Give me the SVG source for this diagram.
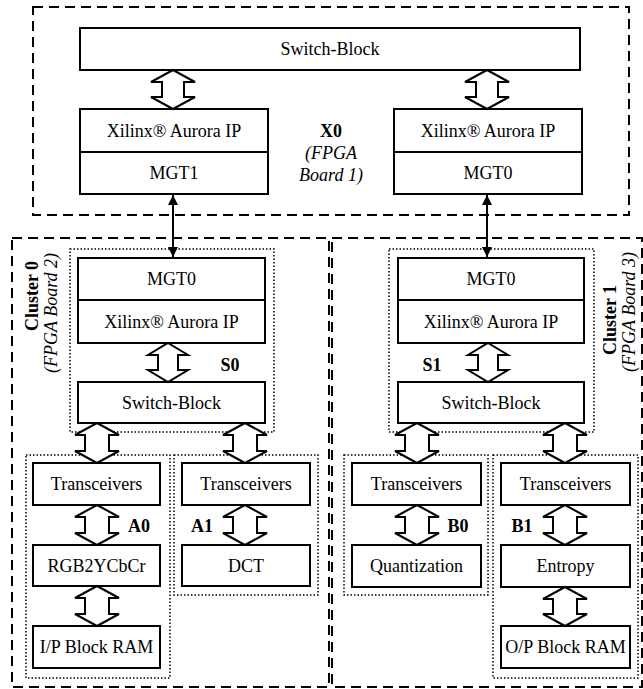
<svg xmlns="http://www.w3.org/2000/svg" width="643" height="689" viewBox="0 0 643 689">
<style>
.box{fill:#fff;stroke:#000;stroke-width:2}
.dash{fill:none;stroke:#000;stroke-width:2;stroke-dasharray:10 6}
.dot{fill:none;stroke:#000;stroke-width:1.5;stroke-dasharray:1.5 2}
.t{font-family:"Liberation Serif","Times New Roman",serif;font-size:18px;text-anchor:middle;fill:#000}
.b{font-weight:bold}
.i{font-style:italic}
.da{fill:#fff;stroke:#000;stroke-width:2;stroke-linejoin:miter}
.ln{stroke:#000;stroke-width:2;fill:none}
</style>
<defs>
<marker id="ah" viewBox="0 0 10 10" refX="10" refY="5" markerWidth="5" markerHeight="5" orient="auto-start-reverse">
<path d="M0,0 L10,5 L0,10 z" fill="#000"/>
</marker>
</defs>
<rect width="643" height="689" fill="#fff"/>

<g id="frames">
<rect class="dash" x="33" y="7" width="596" height="208"/>
<rect class="dash" x="12" y="238" width="317" height="449"/>
<rect class="dash" x="332" y="238" width="310" height="449"/>
<rect class="dot" x="70" y="249" width="204" height="183"/>
<rect class="dot" x="389" y="249" width="205" height="183"/>
<rect class="dot" x="26" y="455" width="144" height="223"/>
<rect class="dot" x="174" y="455" width="144" height="140"/>
<rect class="dot" x="344" y="455" width="144" height="140"/>
<rect class="dot" x="493" y="455" width="145" height="223"/>
</g>

<g id="labels">
<text class="t b" x="331" y="137">X0</text>
<text class="t i" x="331" y="159">(FPGA</text>
<text class="t i" x="331" y="181">Board 1)</text>
<text class="t b" transform="translate(38,296) rotate(-90)">Cluster 0</text>
<text class="t i" transform="translate(57,313) rotate(-90)">(FPGA Board 2)</text>
<text class="t b" transform="translate(616,320) rotate(-90)">Cluster 1</text>
<text class="t i" transform="translate(635,312) rotate(-90)">(FPGA Board 3)</text>
<text class="t b" x="230" y="371">S0</text>
<text class="t b" x="432" y="371">S1</text>
<text class="t b" x="139" y="532">A0</text>
<text class="t b" x="202" y="532">A1</text>
<text class="t b" x="458" y="532">B0</text>
<text class="t b" x="522" y="532">B1</text>
</g>

<g id="x0-switch"><rect class="box" x="80" y="28" width="500" height="42"/><text class="t" x="330" y="55">Switch-Block</text></g>
<g id="x0-left"><rect class="box" x="80" y="109" width="188" height="85"/><line class="ln" x1="80" y1="152" x2="268" y2="152"/><text class="t" x="174" y="137">Xilinx® Aurora IP</text><text class="t" x="174" y="179">MGT1</text></g>
<g id="x0-right"><rect class="box" x="394" y="109" width="188" height="85"/><line class="ln" x1="394" y1="152" x2="582" y2="152"/><text class="t" x="488" y="137">Xilinx® Aurora IP</text><text class="t" x="488" y="179">MGT0</text></g>

<g id="s0-mgt"><rect class="box" x="78" y="258" width="187" height="85"/><line class="ln" x1="78" y1="300" x2="265" y2="300"/><text class="t" x="171.5" y="285">MGT0</text><text class="t" x="171.5" y="328">Xilinx® Aurora IP</text></g>
<g id="s0-switch"><rect class="box" x="78" y="382" width="187" height="41"/><text class="t" x="171.5" y="409">Switch-Block</text></g>
<g id="s1-mgt"><rect class="box" x="398" y="258" width="186" height="85"/><line class="ln" x1="398" y1="300" x2="584" y2="300"/><text class="t" x="491" y="285">MGT0</text><text class="t" x="491" y="328">Xilinx® Aurora IP</text></g>
<g id="s1-switch"><rect class="box" x="398" y="382" width="186" height="41"/><text class="t" x="491" y="409">Switch-Block</text></g>

<g id="a0-trx"><rect class="box" x="33" y="463" width="127" height="42"/><text class="t" x="96.5" y="490">Transceivers</text></g>
<g id="a0-rgb"><rect class="box" x="33" y="545" width="127" height="41"/><text class="t" x="96.5" y="572">RGB2YCbCr</text></g>
<g id="a0-ram"><rect class="box" x="33" y="626" width="127" height="42"/><text class="t" x="96.5" y="653">I/P Block RAM</text></g>
<g id="a1-trx"><rect class="box" x="182" y="463" width="128" height="42"/><text class="t" x="246" y="490">Transceivers</text></g>
<g id="a1-dct"><rect class="box" x="182" y="545" width="128" height="41"/><text class="t" x="246" y="572">DCT</text></g>
<g id="b0-trx"><rect class="box" x="352" y="463" width="129" height="42"/><text class="t" x="416.5" y="490">Transceivers</text></g>
<g id="b0-q"><rect class="box" x="352" y="545" width="129" height="42"/><text class="t" x="416.5" y="572">Quantization</text></g>
<g id="b1-trx"><rect class="box" x="501" y="463" width="129" height="42"/><text class="t" x="565.5" y="490">Transceivers</text></g>
<g id="b1-ent"><rect class="box" x="501" y="545" width="129" height="42"/><text class="t" x="565.5" y="572">Entropy</text></g>
<g id="b1-ram"><rect class="box" x="501" y="626" width="129" height="42"/><text class="t" x="565.5" y="653">O/P Block RAM</text></g>

<g id="connectors">
<line class="ln" x1="173" y1="195" x2="173" y2="257" marker-start="url(#ah)" marker-end="url(#ah)"/>
<line class="ln" x1="487" y1="195" x2="487" y2="257" marker-start="url(#ah)" marker-end="url(#ah)"/>
<polygon class="da" points="173,70 195,82 184,82 184,97 195,97 173,109 151,97 162,97 162,82 151,82"/>
<polygon class="da" points="487,70 509,82 498,82 498,97 509,97 487,109 465,97 476,97 476,82 465,82"/>
<polygon class="da" points="168,343 188,355 178,355 178,370 188,370 168,382 148,370 158,370 158,355 148,355"/>
<polygon class="da" points="488,343 508,355 498,355 498,370 508,370 488,382 468,370 478,370 478,355 468,355"/>
<polygon class="da" points="97,423 119,435 109,435 109,451 119,451 97,463 75,451 85,451 85,435 75,435"/>
<polygon class="da" points="245,423 267,435 257,435 257,451 267,451 245,463 223,451 233,451 233,435 223,435"/>
<polygon class="da" points="417,423 439,435 429,435 429,451 439,451 417,463 395,451 405,451 405,435 395,435"/>
<polygon class="da" points="565,423 587,435 577,435 577,451 587,451 565,463 543,451 553,451 553,435 543,435"/>
<polygon class="da" points="97,505 119,517 109,517 109,533 119,533 97,545 75,533 85,533 85,517 75,517"/>
<polygon class="da" points="97,586 119,598 109,598 109,614 119,614 97,626 75,614 85,614 85,598 75,598"/>
<polygon class="da" points="245,505 267,517 257,517 257,533 267,533 245,545 223,533 233,533 233,517 223,517"/>
<polygon class="da" points="417,505 439,517 429,517 429,533 439,533 417,545 395,533 405,533 405,517 395,517"/>
<polygon class="da" points="565,505 587,517 577,517 577,533 587,533 565,545 543,533 553,533 553,517 543,517"/>
<polygon class="da" points="565,587 587,599 577,599 577,614 587,614 565,626 543,614 553,614 553,599 543,599"/>
</g>
</svg>
